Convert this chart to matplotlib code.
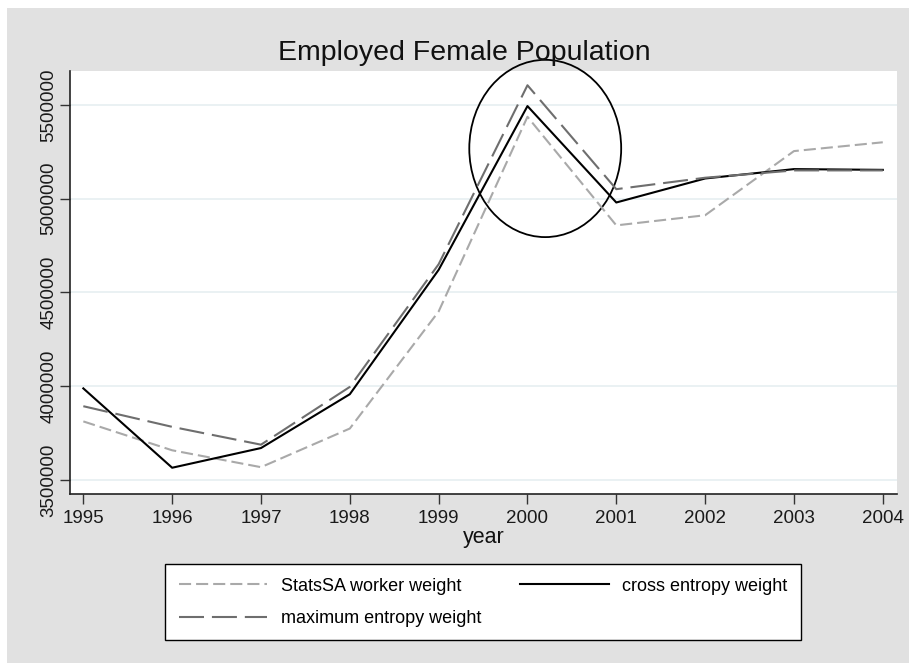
import numpy as np
import matplotlib.pyplot as plt
from matplotlib.patches import Ellipse, Rectangle
from matplotlib.lines import Line2D

plt.rcParams["font.family"] = ["Liberation Sans", "DejaVu Sans"]

years = [1995, 1996, 1997, 1998, 1999, 2000, 2001, 2002, 2003, 2004]
statssa = [3812000, 3658000, 3568000, 3774000, 4398000, 5436000, 4857000, 4911000, 5253000, 5300000]
cross_ent = [3988000, 3565000, 3670000, 3957000, 4620000, 5493000, 4979000, 5107000, 5157000, 5153000]
max_ent = [3893000, 3783000, 3688000, 3996000, 4650000, 5604000, 5050000, 5111000, 5150000, 5150000]
yticks = [3500000, 4000000, 4500000, 5000000, 5500000]

short_dash = (5.8, 2.4)
long_dash = (12, 3.8)

fig = plt.figure(figsize=(9.09, 6.63), dpi=100)
fig.patch.set_facecolor("white")
# gray outer region, thin white strip on top / left
fig.patches.append(Rectangle((7 / 909, 0), 1, 1 - 8 / 663, transform=fig.transFigure,
                             facecolor="#e1e1e1", edgecolor="none", zorder=-10))

ax = fig.add_axes([70 / 909, 1 - 494 / 663, 827 / 909, 423 / 663])
ax.set_facecolor("white")

ax.plot(years, statssa, color="#a9a9a9", lw=1.5, dashes=short_dash, label="StatsSA worker weight")
ax.plot(years, cross_ent, color="black", lw=1.5, label="cross entropy weight")
ax.plot(years, max_ent, color="#6e6e6e", lw=1.5, dashes=long_dash, label="maximum entropy weight")

# circle around the 2000 peak
ell = Ellipse((2000.2, 5267000), 1.71, 945000, fill=False, edgecolor="black", lw=1.3, clip_on=False)
ax.add_patch(ell)

ax.set_xlim(1994.85, 2004.16)
ax.set_ylim(3425000, 5680000)
ax.set_xticks(years)
ax.set_yticks(yticks)
ax.set_yticklabels([str(v) for v in yticks], rotation=90, va="center")
ax.tick_params(axis="both", labelsize=13.5, length=7.2, width=1, color="#333333", labelcolor="#1a1a1a")
ax.tick_params(axis="x", pad=4)
ax.tick_params(axis="y", pad=2)
ax.grid(axis="y", color="#e6eff1", lw=1.2)
ax.set_axisbelow(True)
for s in ["top", "right"]:
    ax.spines[s].set_visible(False)
for s in ["left", "bottom"]:
    ax.spines[s].set_color("#222222")
    ax.spines[s].set_linewidth(1.2)

ax.set_xlabel("year", fontsize=15.5, labelpad=0, color="#111111")
fig.text(464 / 909, 1 - 60 / 663, "Employed Female Population", fontsize=20.5,
         ha="center", va="baseline", color="#111111")

h = [Line2D([], [], color="#a9a9a9", lw=1.5, dashes=short_dash),
     Line2D([], [], color="#6e6e6e", lw=1.5, dashes=long_dash),
     Line2D([], [], color="black", lw=1.5)]
labels = ["StatsSA worker weight", "maximum entropy weight", "cross entropy weight"]
leg = fig.legend(h, labels, ncol=2, loc="upper left",
                 bbox_to_anchor=(165 / 909, 1 - 564 / 663, 636 / 909, 0.0),
                 mode="expand", fontsize=13, frameon=True, fancybox=False,
                 edgecolor="black", facecolor="white", framealpha=1,
                 handlelength=4.9, handletextpad=0.75, labelspacing=0.85,
                 borderpad=0.75, columnspacing=2, borderaxespad=0)
leg.get_frame().set_linewidth(1.0)

fig.savefig("out.png", dpi=100)
